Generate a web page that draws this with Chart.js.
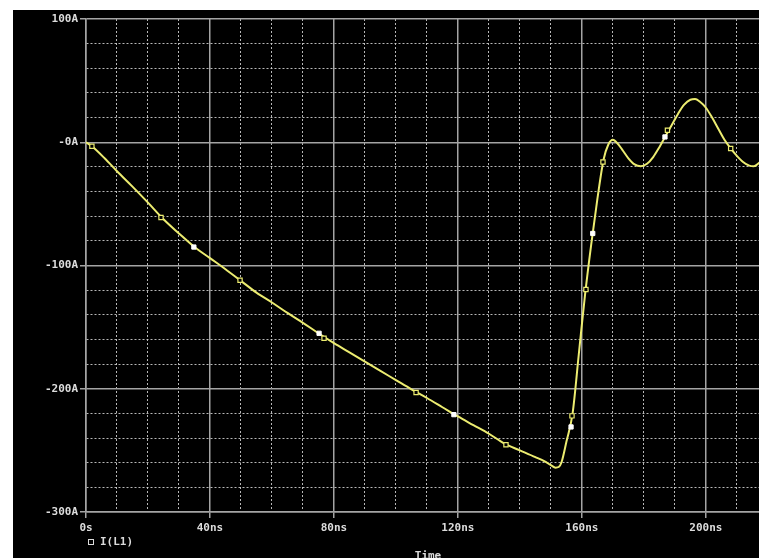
<!DOCTYPE html>
<html>
<head>
<meta charset="utf-8">
<script src="https://cdn.jsdelivr.net/npm/chart.js@4.4.1/dist/chart.umd.min.js"></script>
<style>
  html, body { margin: 0; padding: 0; background: #ffffff; overflow: hidden; }
  #wrap { position: absolute; left: 13px; top: 10px; width: 746px; height: 548px; background: #000000; overflow: hidden; }
  canvas { display: block; }
</style>
</head>
<body>
<div id="wrap"><canvas id="c" width="752" height="548"></canvas></div>
<script>
// ---- data (time in ns, current in A) ----
const timeNs = [0, 2, 6, 10, 15, 20, 25, 30, 35, 40, 45, 50, 55, 60, 65, 70, 75, 80, 85, 90, 95, 100,
  105, 110, 115, 120, 125, 130, 135, 140, 145, 148, 150, 151.5, 152.5, 153.5, 155, 157, 159, 161, 163,
  165, 167, 168.5, 170, 171.5, 173, 175, 177, 179, 181, 183, 185, 187, 189, 191, 193, 195, 196.5, 198,
  200, 202, 204, 206, 208, 210, 212, 214, 215.5, 217, 220];
const currentA = [0, -3.5, -13, -23.5, -36, -49, -62.5, -74, -85, -94, -103, -112.5, -122, -130, -138.5,
  -146.5, -155, -163, -170.5, -178, -185.5, -193, -200.5, -207.5, -215, -222.5, -229.5, -236.5, -244.5,
  -250, -255.5, -259, -262, -264, -263.5, -259, -243, -220, -172, -124, -83, -46, -14, -2, 2, -1, -6,
  -13, -18, -19.5, -17.5, -12, -4, 5, 14, 23, 30.5, 34.5, 35, 33, 28, 20, 11, 2, -5, -11, -16, -19,
  -19.5, -17, -10];

// hollow yellow trace markers
const markerTimes = [1.9, 24.2, 49.7, 76.8, 106.5, 135.5, 156.8, 161.3, 166.8, 187.6, 208];
const markerValues = [-3.3, -61, -112, -159, -203, -245.5, -222, -119.5, -16, 9.8, -5];
// filled white markers
const whiteTimes = [34.8, 75.2, 118.7, 156.5, 163.5, 186.8];
const whiteValues = [-85, -155, -221, -231, -74, 4.3];

// axis ticks / labels
const xTickValues = [0, 40, 80, 120, 160, 200];
const xTickLabels = ['0s', '40ns', '80ns', '120ns', '160ns', '200ns'];
const yTickValues = [100, 0, -100, -200, -300];
const yTickLabels = ['100A', '-0A', '-100A', '-200A', '-300A'];
const legendLabel = 'I(L1)';
const xAxisTitle = 'Time';

// ---- styling ----
const TRACE = '#ecec70';
const MAJOR = '#a4a4a4';
const MINOR = 'rgba(215,215,215,0.85)';
const TEXT = '#dcdcdc';
const FONT = { family: '"DejaVu Sans Mono", monospace', size: 11, weight: 'bold' };

const xMajor = v => xTickValues.includes(Math.round(v));
const yMajor = v => yTickValues.includes(Math.round(v));

const overlay = {
  id: 'overlay',
  afterDraw(chart) {
    const ctx = chart.ctx, a = chart.chartArea;
    ctx.save();
    ctx.fillStyle = TEXT;
    ctx.strokeStyle = TEXT;
    ctx.lineWidth = 1;
    ctx.font = 'bold 11px "DejaVu Sans Mono", monospace';
    ctx.textBaseline = 'middle';
    // legend
    ctx.strokeRect(a.left + 2.5, a.bottom + 27.5, 5, 5);
    ctx.textAlign = 'left';
    ctx.fillText(legendLabel, a.left + 14, a.bottom + 30);
    // axis title
    ctx.textAlign = 'center';
    ctx.fillText(xAxisTitle, 415, a.bottom + 44);
    ctx.restore();
  }
};

new Chart(document.getElementById('c'), {
  type: 'line',
  data: {
    datasets: [
      {
        data: timeNs.map((t, i) => ({ x: t, y: currentA[i] })),
        borderColor: TRACE, borderWidth: 2, pointRadius: 0,
        cubicInterpolationMode: 'monotone', order: 2
      },
      {
        data: markerTimes.map((t, i) => ({ x: t, y: markerValues[i] })),
        showLine: false, pointStyle: 'rect', pointRadius: 3,
        pointBorderColor: TRACE, pointBackgroundColor: '#000', pointBorderWidth: 1.2, order: 1
      },
      {
        data: whiteTimes.map((t, i) => ({ x: t, y: whiteValues[i] })),
        showLine: false, pointStyle: 'rect', pointRadius: 3,
        pointBorderColor: '#ffffff', pointBackgroundColor: '#ffffff', pointBorderWidth: 1, order: 0
      }
    ]
  },
  options: {
    responsive: false,
    animation: false,
    layout: { padding: { top: 9, right: 0, left: 0, bottom: 0 } },
    plugins: { legend: { display: false }, tooltip: { enabled: false } },
    scales: {
      x: {
        type: 'linear', min: 0, max: 217.4,
        afterBuildTicks: s => { const t = []; for (let v = 0; v <= 210; v += 10) t.push({ value: v }); s.ticks = t; },
        afterFit: s => { s.height = 46; s.paddingLeft = 0; s.paddingRight = 0; },
        ticks: {
          autoSkip: false, maxRotation: 0, color: TEXT, font: FONT, padding: 4,
          callback: v => { const i = xTickValues.indexOf(Math.round(v)); return i >= 0 ? xTickLabels[i] : ''; }
        },
        grid: {
          color: c => (c.tick && xMajor(c.tick.value)) ? MAJOR : MINOR,
          lineWidth: c => (c.tick && xMajor(c.tick.value)) ? 1.5 : 1,
          tickLength: 6,
          tickColor: c => (c.tick && xMajor(c.tick.value)) ? MAJOR : 'rgba(0,0,0,0)'
        },
        border: {
          color: MAJOR, width: 1.5,
          dash: c => (c.tick && !xMajor(c.tick.value)) ? [2, 2] : []
        }
      },
      y: {
        type: 'linear', min: -300, max: 100,
        afterBuildTicks: s => { const t = []; for (let v = -300; v <= 100; v += 20) t.push({ value: v }); s.ticks = t; },
        afterFit: s => { s.width = 73; s.paddingTop = 0; s.paddingBottom = 0; },
        ticks: {
          autoSkip: false, color: TEXT, font: FONT, padding: 2,
          callback: v => { const i = yTickValues.indexOf(Math.round(v)); return i >= 0 ? yTickLabels[i] : ''; }
        },
        grid: {
          color: c => (c.tick && yMajor(c.tick.value)) ? MAJOR : MINOR,
          lineWidth: c => (c.tick && yMajor(c.tick.value)) ? 1.5 : 1,
          tickLength: 6,
          tickColor: c => (c.tick && yMajor(c.tick.value)) ? MAJOR : 'rgba(0,0,0,0)'
        },
        border: {
          color: MAJOR, width: 1.5,
          dash: c => (c.tick && !yMajor(c.tick.value)) ? [2, 2] : []
        }
      }
    }
  },
  plugins: [overlay]
});
</script>
</body>
</html>
